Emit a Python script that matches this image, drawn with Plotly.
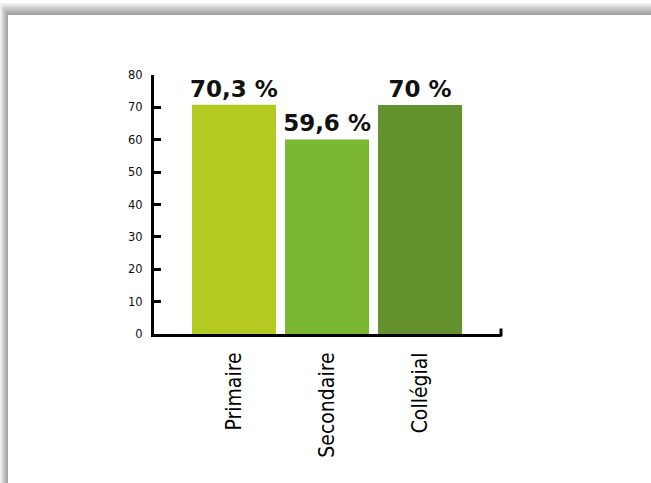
import plotly.graph_objects as go

categories = ["Primaire", "Secondaire", "Collégial"]
bar_heights = [70.8, 60.1, 70.7]
value_labels = ["70,3 %", "59,6 %", "70 %"]
bar_colors = ["#B5CB24", "#7AB733", "#62912D"]
y_ticks = [0, 10, 20, 30, 40, 50, 60, 70, 80]

W, H = 651, 483
L, R, T, B = 154, 150, 75, 149
PW, PH = W - L - R, H - T - B

def px2x(px):
    return (px - L) / PW

def py2y(py):
    return (H - B - py) / PH

fig = go.Figure()
fig.add_trace(go.Bar(
    x=categories, y=bar_heights,
    marker=dict(color=bar_colors, line=dict(width=0)),
    text=value_labels, textposition="outside",
    textfont=dict(family="DejaVu Sans", size=23, color="#111111", weight="bold"),
    constraintext="none", cliponaxis=False,
))

shapes = []
for k in range(1, 11):
    shapes.append(dict(type="rect", xref="paper", yref="paper", layer="below",
                       x0=px2x(8 - k * 0.8), x1=px2x(760), y0=py2y(600), y1=py2y(15 - k * 1.2),
                       fillcolor="rgba(0,0,0,0.045)", line=dict(width=0)))
shapes.append(dict(type="rect", xref="paper", yref="paper", layer="below",
                   x0=px2x(8), x1=px2x(760), y0=py2y(600), y1=py2y(15),
                   fillcolor="white", line=dict(width=0)))
# end cap of the x axis
shapes.append(dict(type="line", xref="paper", yref="paper",
                   x0=1.0, x1=1.0, y0=py2y(336.5), y1=py2y(328.5),
                   line=dict(color="black", width=3)))

fig.update_layout(
    width=W, height=H,
    margin=dict(l=L, r=R, t=T, b=B, pad=0, autoexpand=False),
    paper_bgcolor="white", plot_bgcolor="rgba(0,0,0,0)",
    showlegend=False, bargap=0.097,
    shapes=shapes,
    xaxis=dict(range=[-0.86, 2.87], showline=True, linecolor="black", linewidth=3,
               ticks="", tickangle=-90, showgrid=False, zeroline=False, automargin=False,
               tickfont=dict(family="DejaVu Sans Condensed", size=21, color="#000000"),
               ticklabelstandoff=7),
    yaxis=dict(range=[0, 80], tickvals=y_ticks, showline=True, linecolor="black", linewidth=3,
               ticks="inside", ticklen=7, tickwidth=3, tickcolor="black",
               showgrid=False, zeroline=False, automargin=False,
               tickfont=dict(family="DejaVu Sans", size=11.5, color="#111111"),
               ticklabelstandoff=6),
)

fig.write_html("out.html")
